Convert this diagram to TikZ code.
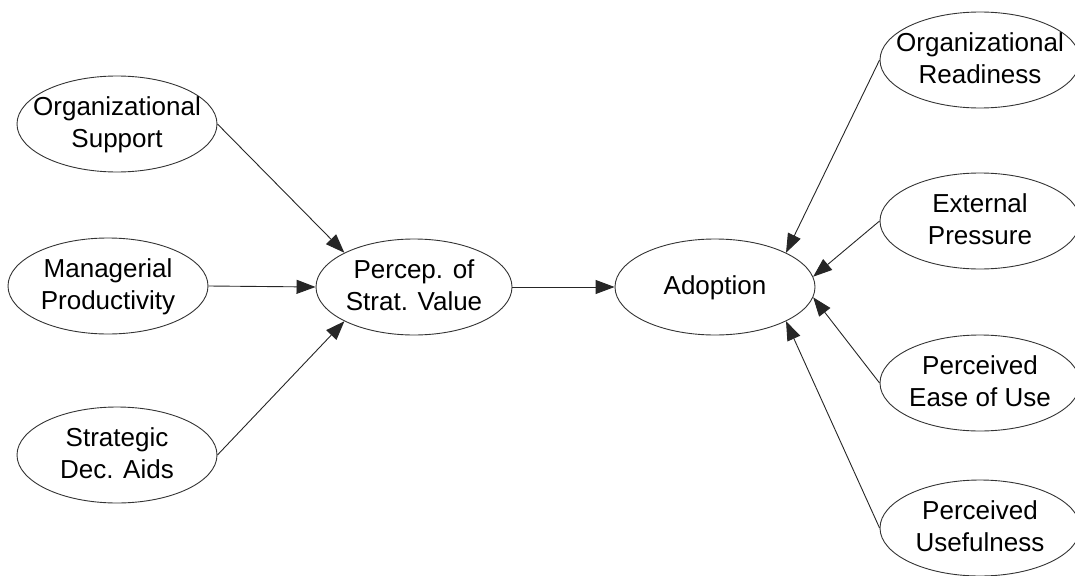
\documentclass[tikz,border=0pt]{standalone}
\usepackage{fontspec}
\setmainfont{Liberation Sans}
\usetikzlibrary{shapes.geometric,arrows.meta}
% Label set in a zero-size box, so that the ellipse keeps its given size
\newcommand\constructtext[1]{\smash{\makebox[0pt]{\raisebox{-7pt}{\begin{tabular}{@{}c@{}}#1\end{tabular}}}}}
\begin{document}
\begin{tikzpicture}[x=1pt,y=-1pt,
  construct/.style={ellipse,draw=black!80,line width=0.9pt,minimum width=200pt,minimum height=96pt,
    inner sep=0pt,font=\fontsize{26}{32}\selectfont},
  link/.style={draw=black!85,line width=0.9pt,-{Triangle[length=19pt,width=14pt]}}]
\useasboundingbox (0,0) rectangle (1075,575);
% antecedents of perceived strategic value
\node[construct] (os) at (117,124) {\constructtext{Organizational\\Support}};
\node[construct] (mp) at (108,286) {\constructtext{Managerial\\Productivity}};
\node[construct] (sd) at (117,455) {\constructtext{Strategic\\Dec. Aids}};
% central constructs
\node[construct,minimum width=196pt] (ps) at (414,287) {\constructtext{Percep. of\\Strat. Value}};
\node[construct] (ad) at (715,287) {\constructtext{Adoption}};
% antecedents of adoption
\node[construct] (or) at (980,60) {\constructtext{Organizational\\Readiness}};
\node[construct] (ep) at (980,221) {\constructtext{External\\Pressure}};
\node[construct] (eu) at (980,383) {\constructtext{Perceived\\Ease of Use}};
\node[construct] (pu) at (980,528) {\constructtext{Perceived\\Usefulness}};
% paths
\draw[link] (os.east) -- (ps.north west);
\draw[link] (mp.east) -- (ps.west);
\draw[link] (sd.east) -- (ps.south west);
\draw[link] (ps.east) -- (ad.west);
\draw[link] (or.west) -- (ad.north east);
\draw[link] (ep.west) -- (ad.6);
\draw[link] (eu.west) -- (ad.-6);
\draw[link] (pu.west) -- (ad.south east);
\end{tikzpicture}
\end{document}
